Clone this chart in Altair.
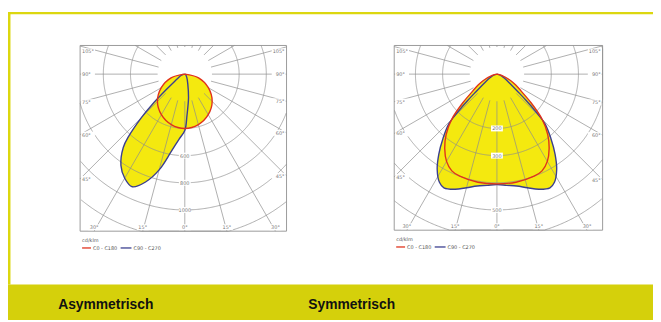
import altair as alt
import pandas as pd
import numpy as np

# ---------------- data (cd/klm, angle in degrees from nadir; negative = left half) ----------------
L_RED_ANG = [-90, -75, -60, -45, -30, -15, 0, 15, 30, 45, 60, 75, 90]
L_RED_VAL = [0, 105, 200, 285, 345, 385, 400, 385, 345, 285, 200, 105, 0]
L_BLUE_ANG = [-90, -80, -70, -60, -55, -50, -47, -45, -42, -40, -35, -30, -25, -20, -15, -10, -5, 0, 3, 9, 17, 30, 60, 90]
L_BLUE_VAL = [0, 15, 30, 55, 90, 180, 330, 450, 620, 705, 820, 885, 915, 845, 730, 580, 480, 415, 305, 175, 75, 30, 7, 0]

R_RED_ANG = [-90, -75, -65, -60, -55, -50, -45, -40, -35, -30, -25, -20, -10, 0, 10, 20, 25, 30, 35, 40, 45, 50, 55, 60, 65, 75, 90]
R_RED_VAL = [0, 18, 55, 80, 109, 164, 236, 291, 335, 371, 393, 400, 404, 404, 404, 400, 393, 371, 335, 291, 236, 164, 109, 80, 55, 18, 0]
R_BLUE_ANG = [-90, -70, -60, -55, -50, -48, -46, -44, -40, -36, -32, -28, -25, -20, -15, -10, -5, 0, 5, 10, 15, 20, 25, 28, 32, 36, 40, 44, 46, 48, 50, 55, 60, 70, 90]
R_BLUE_VAL = [0, 18, 36, 55, 102, 145, 200, 255, 309, 364, 415, 451, 462, 451, 433, 418, 411, 407, 411, 418, 433, 451, 462, 451, 415, 364, 309, 255, 200, 145, 102, 55, 36, 18, 0]

L_RING_LABELS = {3: "600", 4: "800", 5: "1000"}
R_RING_LABELS = {2: "200", 3: "300", 5: "500"}

SIDE_LEFT_ANG = [-105, -90, -75, -60, -45]
SIDE_LEFT_TXT = ["105°", "90°", "75°", "60°", "45°"]
SIDE_RIGHT_ANG = [105, 90, 75, 60, 45]
SIDE_RIGHT_TXT = ["105°", "90°", "75°", "60°", "45°"]
BOTTOM_ANG = [-30, -15, 0, 15, 30]
BOTTOM_TXT = ["30°", "15°", "0°", "15°", "30°"]

TITLES = ["Asymmetrisch", "Symmetrisch"]
LEGEND_TXT = ["cd/klm", "C0 - C180", "C90 - C270"]

# ---------------- style / layout ----------------
W, H = 653, 314
RED = "#e0321c"
BLUE = "#3b3f8f"
YELLOW = "#f4e90f"
FRAME = "#dcd70f"
BAR = "#d5d00b"
GRID = "#8c8c8c"
LBL = "#777777"
RING = 27.5
TITLE_FONT = "'Liberation Sans Narrow', 'Liberation Sans', Arial, sans-serif"


def X(f):
    return alt.X(f, type="quantitative", scale=alt.Scale(domain=[0, W], nice=False, zero=False), axis=None)


def Y(f):
    return alt.Y(f, type="quantitative", scale=alt.Scale(domain=[0, H], nice=False, zero=False, reverse=True), axis=None)


def endpoint_calc(ch, cx, cy, Lb, Rb, Tb, Bb):
    return ch.transform_calculate(
        s="sin(datum.ang*PI/180)", c="cos(datum.ang*PI/180)"
    ).transform_calculate(
        tx=f"datum.s > 1e-6 ? ({Rb}-{cx})/datum.s : (datum.s < -1e-6 ? ({Lb}-{cx})/datum.s : 1e6)",
        ty=f"datum.c > 1e-6 ? ({Bb}-{cy})/datum.c : (datum.c < -1e-6 ? ({Tb}-{cy})/datum.c : 1e6)",
    ).transform_calculate(
        t="min(datum.tx, datum.ty)"
    ).transform_calculate(
        ex=f"{cx} + datum.t*datum.s", ey=f"{cy} + datum.t*datum.c"
    )


def panel(cx, cy, box, k, red_ang, red_val, blue_ang, blue_val, ring_labels):
    Lb, Tb, Rb, Bb = box
    layers = []
    red = pd.DataFrame({"curve": "red", "i": range(len(red_ang)), "ang": red_ang, "val": red_val})
    blue = pd.DataFrame({"curve": "blue", "i": range(len(blue_ang)), "ang": blue_ang, "val": blue_val})

    def curve_chart(df):
        return alt.Chart(df).transform_calculate(
            px=f"{cx} + datum.val*{k}*sin(datum.ang*PI/180)",
            py=f"{cy} + datum.val*{k}*cos(datum.ang*PI/180)",
        )

    # box
    layers.append(
        alt.Chart(pd.DataFrame({"a": [0]})).mark_rect(fill="white", stroke="#9a9a9a", strokeWidth=1).encode(
            x=alt.X(datum=Lb, type="quantitative", scale=alt.Scale(domain=[0, W], nice=False, zero=False), axis=None),
            x2=alt.X2(datum=Rb),
            y=alt.Y(datum=Tb, type="quantitative", scale=alt.Scale(domain=[0, H], nice=False, zero=False, reverse=True), axis=None),
            y2=alt.Y2(datum=Bb),
        )
    )
    # yellow fills
    for df in (blue, red):
        layers.append(
            curve_chart(df).mark_line(fill=YELLOW, strokeWidth=0, interpolate="catmull-rom").encode(
                x=X("px"), y=Y("py"), order="i:Q"
            )
        )
    # rings
    rows = []
    for kk in range(2, 7):
        for t in np.arange(-180, 180.5, 0.5):
            rows.append({"ring": kk, "t": float(t)})
    rings = pd.DataFrame(rows)
    layers.append(
        alt.Chart(rings).transform_calculate(
            px=f"{cx} + datum.ring*{RING}*sin(datum.t*PI/180)",
            py=f"{cy} + datum.ring*{RING}*cos(datum.t*PI/180)",
        ).transform_filter(
            f"datum.px >= {Lb} && datum.px <= {Rb} && datum.py >= {Tb} && datum.py <= {Bb}"
        ).mark_line(color=GRID, strokeWidth=0.7).encode(
            x=X("px"), y=Y("py"), detail="ring:N", order="t:Q"
        )
    )
    # radial lines
    rad = pd.DataFrame([{"ang": a, "pos": p} for a in range(0, 360, 15) for p in (0, 1)])
    layers.append(
        endpoint_calc(alt.Chart(rad), cx, cy, Lb, Rb, Tb, Bb).transform_calculate(
            rr=f"datum.pos == 0 ? {RING} : datum.t"
        ).transform_calculate(
            px=f"{cx} + datum.rr*datum.s", py=f"{cy} + datum.rr*datum.c"
        ).mark_line(color=GRID, strokeWidth=0.7).encode(
            x=X("px"), y=Y("py"), detail="ang:N", order="pos:Q"
        )
    )
    # outlines
    for df, col in ((blue, BLUE), (red, RED)):
        layers.append(
            curve_chart(df).mark_line(color=col, strokeWidth=1.4, interpolate="catmull-rom").encode(
                x=X("px"), y=Y("py"), order="i:Q"
            )
        )
    # side labels
    for angs, txts, align, xexpr in (
        (SIDE_LEFT_ANG, SIDE_LEFT_TXT, "left", f"{Lb + 2}"),
        (SIDE_RIGHT_ANG, SIDE_RIGHT_TXT, "right", f"{Rb - 2}"),
    ):
        df = pd.DataFrame({"ang": angs, "txt": txts})
        base = endpoint_calc(alt.Chart(df), cx, cy, Lb, Rb, Tb, Bb).transform_calculate(
            lx=xexpr, ly=f"max(datum.ey, {Tb + 6})"
        )
        x0 = f"{Lb + 1}" if align == "left" else f"{Rb - 15}"
        layers.append(
            base.transform_calculate(bx=x0, bx2=f"{x0} + 14", by="datum.ly - 3", by2="datum.ly + 3").mark_rect(
                fill="white"
            ).encode(x=X("bx"), x2="bx2:Q", y=Y("by"), y2="by2:Q")
        )
        layers.append(
            base.mark_text(align=align, baseline="middle", fontSize=5, color=LBL, font="DejaVu Sans").encode(
                x=X("lx"), y=Y("ly"), text="txt:N"
            )
        )
    # bottom labels
    df = pd.DataFrame({"ang": BOTTOM_ANG, "txt": BOTTOM_TXT})
    base = endpoint_calc(alt.Chart(df), cx, cy, Lb, Rb, Tb, Bb).transform_calculate(
        lx="datum.ex", ly=f"{Bb - 4}"
    )
    layers.append(
        base.transform_calculate(bx="datum.lx - 6", bx2="datum.lx + 6", by="datum.ly - 3", by2="datum.ly + 3").mark_rect(
            fill="white"
        ).encode(x=X("bx"), x2="bx2:Q", y=Y("by"), y2="by2:Q")
    )
    layers.append(
        base.mark_text(align="center", baseline="middle", fontSize=5, color=LBL, font="DejaVu Sans").encode(
            x=X("lx"), y=Y("ly"), text="txt:N"
        )
    )
    # ring value labels along the 0° ray
    rl = pd.DataFrame({"ring": list(ring_labels.keys()), "txt": list(ring_labels.values())})
    rbase = alt.Chart(rl).transform_calculate(lx=f"{cx}", ly=f"{cy} + datum.ring*{RING}")
    layers.append(
        rbase.transform_calculate(bx="datum.lx - 6", bx2="datum.lx + 6", by="datum.ly - 3", by2="datum.ly + 3").mark_rect(
            fill="white"
        ).encode(x=X("bx"), x2="bx2:Q", y=Y("by"), y2="by2:Q")
    )
    layers.append(
        rbase.mark_text(align="center", baseline="middle", fontSize=5, color=LBL, font="DejaVu Sans").encode(
            x=X("lx"), y=Y("ly"), text="txt:N"
        )
    )
    # legend
    leg_t = pd.DataFrame({"txt": LEGEND_TXT, "lx": [Lb + 2, Lb + 13, Lb + 54], "ly": [Bb + 9, Bb + 17, Bb + 17]})
    layers.append(
        alt.Chart(leg_t).mark_text(align="left", baseline="middle", fontSize=5, color="#555", font="DejaVu Sans").encode(
            x=X("lx"), y=Y("ly"), text="txt:N"
        )
    )
    leg_l = pd.DataFrame({"c": ["red", "blue"], "x1": [Lb + 2, Lb + 41], "x2": [Lb + 11, Lb + 52], "y1": [Bb + 17, Bb + 17]})
    layers.append(
        alt.Chart(leg_l).mark_rule(strokeWidth=1.3).encode(
            x=X("x1"), x2="x2:Q", y=Y("y1"),
            color=alt.Color("c:N", scale=alt.Scale(domain=["red", "blue"], range=[RED, BLUE]), legend=None),
        )
    )
    return layers


layers = []
# frame
frame = pd.DataFrame({"x1": [0, 0], "x2": [W, 2.5], "y1": [2, 2], "y2": [4.5, 278]})
layers.append(
    alt.Chart(frame).mark_rect(fill=FRAME).encode(x=X("x1"), x2="x2:Q", y=Y("y1"), y2="y2:Q")
)
# bottom bar
layers.append(
    alt.Chart(pd.DataFrame({"a": [0]})).mark_rect(fill=BAR).encode(
        x=alt.X(datum=0, type="quantitative", scale=alt.Scale(domain=[0, W], nice=False, zero=False), axis=None),
        x2=alt.X2(datum=W),
        y=alt.Y(datum=278, type="quantitative", scale=alt.Scale(domain=[0, H], nice=False, zero=False, reverse=True), axis=None),
        y2=alt.Y2(datum=H),
    )
)
layers += panel(179, 65, (73, 36, 282, 224), 27.5 / 200, L_RED_ANG, L_RED_VAL, L_BLUE_ANG, L_BLUE_VAL, L_RING_LABELS)
layers += panel(495, 65, (391, 36, 602, 223), 27.5 / 100, R_RED_ANG, R_RED_VAL, R_BLUE_ANG, R_BLUE_VAL, R_RING_LABELS)

titles = pd.DataFrame({"txt": TITLES, "lx": [99, 348], "ly": [299, 299]})
layers.append(
    alt.Chart(titles).mark_text(
        align="center", baseline="middle", fontSize=14, fontWeight="bold", font=TITLE_FONT, color="#111111"
    ).encode(x=X("lx"), y=Y("ly"), text="txt:N")
)

chart = alt.layer(*layers).properties(width=W, height=H, padding=0, background="white").configure_view(strokeWidth=0)
chart.save("out.html", embed_options={"renderer": "svg", "actions": False})
